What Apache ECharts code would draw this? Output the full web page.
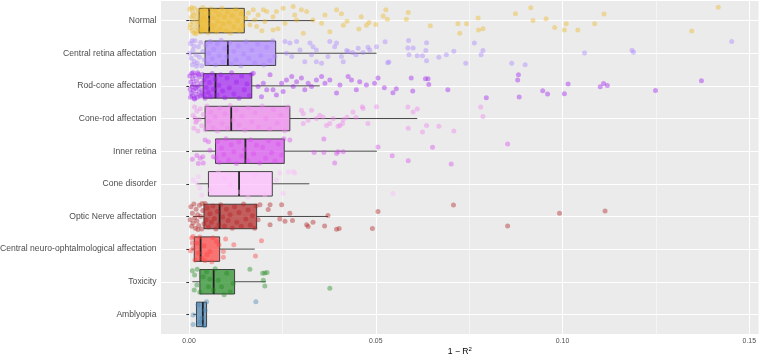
<!DOCTYPE html>
<html>
<head>
<meta charset="utf-8">
<script src="https://cdn.jsdelivr.net/npm/echarts@6/dist/echarts.min.js"></script>
<style>
  html, body { margin: 0; padding: 0; background: #fff; }
  #chart { width: 760px; height: 356px; }
</style>
</head>
<body>
<div id="chart"></div>
<script>
var categories = ['Normal', 'Central retina affectation', 'Rod-cone affectation', 'Cone-rod affectation',
  'Inner retina', 'Cone disorder', 'Optic Nerve affectation', 'Central neuro-ophtalmological affectation',
  'Toxicity', 'Amblyopia'];

// box statistics
var boxLow  = [0.0001, 0.0005, 0.0003, 0.0011, 0.0008, 0.0021, 0.0011, 0.0007, 0.0009, 0.0011];
var boxQ1   = [0.0027, 0.0043, 0.0038, 0.0043, 0.0071, 0.0052, 0.0040, 0.0014, 0.0029, 0.0020];
var boxMed  = [0.0054, 0.0104, 0.0071, 0.0113, 0.0151, 0.0134, 0.0082, 0.0031, 0.0066, 0.0037];
var boxQ3   = [0.0148, 0.0232, 0.0168, 0.0270, 0.0255, 0.0223, 0.0181, 0.0082, 0.0122, 0.0047];
var boxHigh = [0.0335, 0.0502, 0.0350, 0.0611, 0.0503, 0.0322, 0.0372, 0.0176, 0.0206, 0.0047];

var groupColors = ['#ECB828', '#AB82FF', '#A020F0', '#EE82EE', '#D94FEF',
  '#FFBBFF', '#B22222', '#FF4040', '#228B22', '#4682B4'];

var xTicks = [0, 0.05, 0.10, 0.15];

// jittered points: [1 - R^2, vertical jitter]
var ptsNormal = [
  [0.0002,-0.35],[0.0004,0.12],[0.0006,-0.1],[0.0008,0.3],[0.0010,-0.25],[0.0011,0.05],[0.0013,0.38],[0.0015,-0.38],
  [0.0016,0.2],[0.0018,-0.05],[0.0020,0.33],[0.0021,-0.2],[0.0023,0.1],[0.0025,-0.32],[0.0026,0.25],[0.0028,-0.12],
  [0.0030,0.36],[0.0032,0.0],[0.0034,-0.28],[0.0035,0.18],[0.0037,-0.4],[0.0039,0.3],[0.0041,-0.15],[0.0043,0.08],
  [0.0045,-0.33],[0.0047,0.22],[0.0049,-0.02],[0.0051,0.37],[0.0053,-0.22],[0.0056,0.12],[0.0059,-0.36],[0.0062,0.28],
  [0.0065,-0.08],[0.0068,0.16],[0.0071,-0.3],[0.0074,0.35],[0.0077,0.02],[0.0080,-0.18],[0.0084,0.25],[0.0088,-0.38],
  [0.0091,0.1],[0.0095,-0.1],[0.0099,0.32],[0.0103,-0.26],[0.0107,0.05],[0.0111,0.38],[0.0116,-0.15],[0.0120,0.2],
  [0.0125,-0.35],[0.0130,0.0],[0.0135,0.3],[0.0140,-0.22],[0.0145,0.14],[0.0003,0.22],[0.0007,-0.4],[0.0012,-0.15],
  [0.0019,0.4],[0.0027,0.05],[0.0033,0.26],[0.0040,-0.05],
  [0.0159,-0.23],[0.0172,-0.33],[0.0185,-0.17],[0.0163,0.13],[0.0181,0.18],[0.0199,-0.33],[0.0208,-0.28],[0.0225,-0.12],
  [0.0234,-0.28],[0.0252,-0.38],[0.0257,0.08],[0.0279,-0.43],[0.0283,-0.17],[0.0288,-0.02],[0.0301,-0.33],[0.0306,0.39],
  [0.0315,-0.28],[0.0332,-0.02],[0.0355,0.08],[0.0364,-0.17],[0.0377,0.34],[0.0395,-0.33],[0.0408,-0.21],[0.0413,0.14],
  [0.0423,0.02],[0.0455,0.26],[0.0461,-0.12],[0.0475,0.14],[0.0482,0.06],[0.0500,0.12],[0.0520,-0.14],[0.0527,-0.33],
  [0.0531,-0.04],[0.0582,-0.04],[0.0587,-0.25],[0.0646,0.16],[0.0720,0.10],[0.0725,0.39],[0.0743,0.10],[0.0774,-0.08],
  [0.0775,0.29],[0.0787,0.25],[0.0874,-0.21],[0.0915,-0.39],[0.0921,0.0],[0.0956,-0.06],[0.0979,0.21],[0.1005,0.29],
  [0.1010,0.10],[0.1041,0.29],[0.1086,0.10],[0.1111,-0.20],[0.1346,0.32],[0.1417,-0.41],
  [0.0225,0.29],[0.0203,0.03],[0.0176,-0.02],[0.0152,-0.08],[0.0238,0.25],[0.0195,0.31]
];
var ptsCentralRetina = [
  [0.0004,-0.3],[0.0006,0.15],[0.0009,0.35],[0.0011,-0.1],[0.0014,0.25],[0.0016,-0.38],[0.0019,0.05],[0.0022,0.3],
  [0.0025,-0.2],[0.0028,0.12],[0.0031,-0.33],[0.0034,0.38],[0.0037,-0.05],[0.0041,0.2],[0.0045,-0.25],[0.0049,0.32],
  [0.0053,0.0],[0.0057,-0.36],[0.0062,0.17],[0.0066,-0.12],[0.0071,0.36],[0.0076,-0.28],[0.0081,0.08],[0.0086,-0.4],
  [0.0091,0.26],[0.0096,-0.15],[0.0102,0.1],[0.0108,-0.32],[0.0114,0.33],[0.0120,-0.05],[0.0126,0.2],[0.0132,-0.22],
  [0.0139,0.38],[0.0146,0.02],[0.0153,-0.35],[0.0160,0.15],[0.0168,-0.1],[0.0176,0.3],[0.0184,-0.28],[0.0192,0.07],
  [0.0200,0.36],[0.0208,-0.18],[0.0216,0.22],[0.0224,-0.38],[0.0230,0.1],[0.0002,0.0],[0.0013,-0.22],[0.0020,0.4],
  [0.0008,-0.38],
  [0.0257,-0.36],[0.0270,-0.31],[0.0288,-0.36],[0.0261,0.0],[0.0275,0.10],[0.0297,-0.10],[0.0310,0.26],[0.0324,-0.31],
  [0.0328,0.05],[0.0341,-0.10],[0.0355,0.31],[0.0332,-0.20],[0.0341,0.26],[0.0372,0.10],[0.0377,-0.36],[0.0390,-0.20],
  [0.0395,-0.31],[0.0408,0.10],[0.0413,0.26],[0.0422,-0.08],[0.0426,-0.05],[0.0438,-0.02],[0.0447,0.05],[0.0453,-0.15],
  [0.0466,-0.02],[0.0479,-0.18],[0.0484,-0.10],[0.0502,-0.20],[0.0525,-0.35],[0.0532,0.29],[0.0535,0.27],[0.0586,-0.16],
  [0.0588,-0.39],[0.0600,-0.16],[0.0589,0.05],[0.0611,0.08],[0.0625,0.08],[0.0636,0.23],[0.0634,-0.08],[0.0636,-0.32],
  [0.0669,0.12],[0.0689,0.05],[0.0709,-0.06],[0.0741,0.31],[0.0764,-0.31],[0.0782,0.05],[0.0787,-0.08],[0.0864,0.31],
  [0.0900,0.35],[0.1059,-0.01],[0.1186,-0.09],[0.1190,-0.03],[0.1453,-0.36]
];
var ptsRodCone = [
  [0.0002,-0.3],[0.0003,0.1],[0.0004,0.35],[0.0005,-0.12],[0.0006,0.22],[0.0007,-0.38],[0.0008,0.02],[0.0009,0.3],
  [0.0010,-0.22],[0.0012,0.14],[0.0013,-0.05],[0.0014,0.38],[0.0016,-0.32],[0.0017,0.08],[0.0019,0.26],[0.0020,-0.15],
  [0.0022,0.35],[0.0023,-0.4],[0.0025,0.0],[0.0027,0.18],[0.0028,-0.27],[0.0030,0.32],[0.0032,-0.08],[0.0034,0.12],
  [0.0036,-0.35],[0.0038,0.24],[0.0040,-0.18],[0.0043,0.38],[0.0046,0.05],[0.0049,-0.3],[0.0052,0.2],[0.0055,-0.1],
  [0.0058,0.33],[0.0062,-0.38],[0.0066,0.1],[0.0070,-0.2],[0.0075,0.28],[0.0080,-0.02],[0.0085,-0.34],[0.0090,0.16],
  [0.0096,0.36],[0.0102,-0.24],[0.0108,0.06],[0.0114,-0.4],[0.0120,0.25],[0.0127,-0.12],[0.0134,0.38],[0.0141,-0.3],
  [0.0148,0.12],[0.0155,-0.06],[0.0162,0.3],[0.0167,-0.36],[0.0011,-0.4],[0.0015,0.4],[0.0021,0.05],[0.0026,-0.36],
  [0.0033,0.28],
  [0.0172,-0.39],[0.0185,0.02],[0.0199,-0.08],[0.0208,0.12],[0.0194,0.33],[0.0217,-0.34],[0.0225,0.12],[0.0234,0.28],
  [0.0248,-0.08],[0.0252,0.17],[0.0261,-0.18],[0.0275,-0.29],[0.0279,0.02],[0.0288,-0.13],[0.0301,-0.24],[0.0310,0.12],
  [0.0319,-0.08],[0.0328,0.02],[0.0341,-0.18],[0.0355,-0.29],[0.0364,-0.08],[0.0377,-0.18],[0.0395,0.22],[0.0404,-0.03],
  [0.0426,-0.29],[0.0435,-0.18],[0.0448,0.12],[0.0457,-0.13],[0.0475,-0.03],[0.0497,-0.08],[0.0506,-0.24],[0.0523,0.06],
  [0.0546,0.21],[0.0555,0.09],[0.0595,-0.24],[0.0599,0.16],[0.0633,-0.22],[0.0640,-0.22],[0.0642,-0.04],[0.0693,0.12],
  [0.0796,0.36],[0.0882,-0.34],[0.0880,-0.18],[0.0884,0.34],[0.0947,0.15],[0.0960,0.25],[0.1005,0.24],[0.1015,-0.06],
  [0.1101,0.03],[0.1110,-0.07],[0.1120,-0.01],[0.1249,0.14],[0.1372,-0.16]
];
var ptsConeRod = [
  [0.0011,-0.1],[0.0013,0.3],[0.0015,-0.35],[0.0018,0.12],[0.0021,-0.22],[0.0024,0.38],[0.0027,0.02],[0.0030,-0.3],
  [0.0034,0.22],[0.0038,-0.12],[0.0043,0.34],[0.0048,-0.38],[0.0053,0.08],[0.0058,-0.2],[0.0064,0.28],[0.0070,-0.05],
  [0.0076,0.38],[0.0082,-0.32],[0.0089,0.15],[0.0096,-0.15],[0.0103,0.3],[0.0110,-0.4],[0.0118,0.05],[0.0126,-0.25],
  [0.0134,0.2],[0.0142,-0.08],[0.0150,0.36],[0.0159,-0.34],[0.0168,0.1],[0.0177,-0.18],[0.0186,0.26],[0.0196,-0.38],
  [0.0206,0.0],[0.0216,0.32],[0.0226,-0.28],[0.0236,0.14],[0.0246,-0.1],[0.0256,0.38],[0.0265,-0.35],[0.0020,0.08],
  [0.0016,-0.02],
  [0.0301,-0.25],[0.0306,-0.15],[0.0319,0.05],[0.0328,-0.25],[0.0306,0.15],[0.0341,0.0],[0.0350,-0.10],[0.0359,-0.05],
  [0.0368,0.21],[0.0377,0.15],[0.0386,0.0],[0.0399,0.24],[0.0411,0.15],[0.0413,0.03],[0.0423,-0.04],[0.0439,-0.20],
  [0.0447,-0.03],[0.0464,-0.36],[0.0466,-0.31],[0.0479,0.15],[0.0502,-0.36],[0.0586,-0.35],[0.0600,-0.20],[0.0611,-0.29],
  [0.0587,0.30],[0.0625,0.41],[0.0636,0.21],[0.0669,0.24],[0.0709,0.38],[0.0781,-0.35],[0.0787,-0.06],[0.0404,0.21]
];
var ptsInnerRetina = [
  [0.0009,0.25],[0.0021,0.13],[0.0025,0.38],[0.0037,0.17],[0.0043,-0.34],[0.0052,-0.29],[0.0038,0.36],[0.0056,-0.03],
  [0.0065,0.17],[0.0030,0.22],
  [0.0072,0.2],[0.0076,-0.3],[0.0081,0.35],[0.0087,-0.1],[0.0093,0.1],[0.0099,-0.38],[0.0106,0.28],[0.0113,-0.2],
  [0.0120,0.02],[0.0127,0.38],[0.0134,-0.28],[0.0141,0.15],[0.0149,-0.05],[0.0157,0.3],[0.0165,-0.35],[0.0173,0.08],
  [0.0181,-0.18],[0.0189,0.36],[0.0197,-0.12],[0.0205,0.22],[0.0213,-0.32],[0.0221,0.05],[0.0230,0.3],[0.0239,-0.22],
  [0.0248,0.12],[0.0254,-0.38],
  [0.0270,-0.34],[0.0335,0.04],[0.0361,-0.37],[0.0361,0.04],[0.0390,0.36],[0.0399,0.02],[0.0395,0.07],[0.0413,0.02],
  [0.0506,-0.13],[0.0544,0.14],[0.0587,0.29],[0.0652,-0.12],[0.0702,0.39],[0.0853,-0.22]
];
var ptsConeDisorder = [
  [0.0011,-0.12],[0.0025,-0.22],[0.0029,0.13],[0.0034,0.34],[0.0021,-0.02],[0.0056,0.18],[0.0096,-0.18],[0.0136,0.25],
  [0.0176,-0.28],[0.0203,0.34],[0.0243,-0.33],[0.0266,-0.36],[0.0283,-0.33],[0.0252,0.29],[0.0234,-0.12],[0.0279,-0.38],
  [0.0546,0.30],[0.0110,0.03],[0.0078,-0.37],[0.0158,0.40]
];
var ptsOpticNerve = [
  [0.0003,0.1],[0.0005,-0.3],[0.0007,0.3],[0.0009,-0.1],[0.0011,0.2],[0.0013,-0.38],[0.0015,0.05],[0.0017,0.36],
  [0.0019,-0.22],[0.0021,0.14],[0.0023,-0.05],[0.0026,0.28],[0.0028,-0.34],[0.0031,0.0],[0.0034,0.38],[0.0037,-0.18],
  [0.0040,0.22],[0.0043,-0.4],[0.0046,0.1],[0.0049,-0.26],[0.0052,0.32],[0.0056,-0.08],[0.0060,0.18],[0.0064,-0.32],
  [0.0068,0.06],[0.0072,0.38],[0.0076,-0.15],[0.0080,0.25],[0.0085,-0.36],[0.0090,0.02],[0.0095,0.3],[0.0100,-0.22],
  [0.0105,0.12],[0.0110,-0.05],[0.0116,0.36],[0.0122,-0.3],[0.0128,0.18],[0.0134,-0.12],[0.0140,0.3],[0.0146,-0.38],
  [0.0152,0.08],[0.0158,-0.2],[0.0164,0.26],[0.0170,-0.02],[0.0176,0.36],[0.0180,-0.32],[0.0024,0.4],[0.0035,-0.4],
  [0.0190,-0.36],[0.0217,-0.36],[0.0248,-0.36],[0.0212,-0.21],[0.0185,0.10],[0.0217,0.25],[0.0243,0.08],[0.0257,0.15],
  [0.0277,0.12],[0.0270,-0.10],[0.0315,0.25],[0.0319,0.31],[0.0332,0.18],[0.0363,0.29],[0.0372,-0.03],[0.0395,0.39],
  [0.0402,0.37],[0.0491,0.37],[0.0506,-0.15],[0.0708,-0.35],[0.0853,0.29],[0.0992,-0.10],[0.1114,-0.17]
];
var ptsCentralNeuro = [
  [0.0007,-0.34],[0.0011,-0.39],[0.0029,-0.37],[0.0021,-0.18],[0.0011,-0.03],[0.0025,0.12],[0.0016,0.33],[0.0034,0.28],
  [0.0056,0.07],[0.0074,-0.23],[0.0092,0.07],[0.0092,0.25],[0.0098,-0.31],[0.0120,-0.13],[0.0194,-0.26],[0.0178,0.21],
  [0.0040,-0.10],[0.0048,0.17],[0.0061,0.39],[0.0009,-0.19],[0.0004,0.05],[0.0064,-0.35],[0.0080,-0.13],[0.0043,0.36]
];
var ptsToxicity = [
  [0.0009,-0.34],[0.0022,-0.38],[0.0015,-0.21],[0.0021,0.10],[0.0014,0.25],[0.0038,-0.15],[0.0052,0.15],[0.0065,0.25],
  [0.0078,-0.05],[0.0101,-0.26],[0.0110,0.31],[0.0118,0.05],[0.0087,0.15],[0.0047,-0.31],[0.0056,-0.08],[0.0029,0.32],
  [0.0163,-0.38],[0.0203,-0.27],[0.0197,-0.26],[0.0209,-0.28],[0.0199,-0.05],[0.0203,0.13],[0.0377,0.20],[0.0070,-0.40],
  [0.0094,0.40]
];
var ptsAmblyopia = [
  [0.0047,-0.39],[0.0011,0.02],[0.0011,0.31],[0.0041,0.35],[0.0179,-0.39],[0.0024,-0.29],[0.0035,0.11],[0.0043,-0.13],
  [0.0029,0.24]
];
var groupPoints = [ptsNormal, ptsCentralRetina, ptsRodCone, ptsConeRod, ptsInnerRetina,
  ptsConeDisorder, ptsOpticNerve, ptsCentralNeuro, ptsToxicity, ptsAmblyopia];

function hexA(hex, a) {
  var n = parseInt(hex.slice(1), 16);
  return 'rgba(' + (n >> 16 & 255) + ',' + (n >> 8 & 255) + ',' + (n & 255) + ',' + a + ')';
}

// vertical gridline colour cycles (one entry per 0.0025 step starting at -0.0075)
var majorCycle = [], minorCycle = [];
for (var k = 0; k < 20; k++) {
  majorCycle.push(k === 3 ? '#FFFFFF' : 'rgba(0,0,0,0)');
  minorCycle.push(k === 13 ? '#FFFFFF' : 'rgba(0,0,0,0)');
}

var FONT = '"Liberation Sans", Arial, sans-serif';

var boxData = categories.map(function (c, i) {
  return [i + 1, boxLow[i], boxQ1[i], boxMed[i], boxQ3[i], boxHigh[i]];
});

var series = [{
  type: 'custom',
  xAxisIndex: 0,
  yAxisIndex: 0,
  z: 2,
  data: boxData,
  renderItem: function (params, api) {
    var cat = api.value(0);
    var lo = api.coord([api.value(1), cat]);
    var q1 = api.coord([api.value(2), cat]);
    var md = api.coord([api.value(3), cat]);
    var q3 = api.coord([api.value(4), cat]);
    var hi = api.coord([api.value(5), cat]);
    var h = api.size([0, 0.75])[1];
    var y = q1[1];
    var col = groupColors[params.dataIndex];
    return {
      type: 'group',
      children: [
        { type: 'line', shape: { x1: lo[0], y1: y, x2: q1[0], y2: y }, style: { stroke: '#333333', lineWidth: 0.9 } },
        { type: 'line', shape: { x1: q3[0], y1: y, x2: hi[0], y2: y }, style: { stroke: '#333333', lineWidth: 0.9 } },
        { type: 'rect', shape: { x: q1[0], y: y - h / 2, width: q3[0] - q1[0], height: h },
          style: { fill: hexA(col, 0.7), stroke: '#333333', lineWidth: 0.9 } },
        { type: 'line', shape: { x1: md[0], y1: y - h / 2, x2: md[0], y2: y + h / 2 },
          style: { stroke: '#222222', lineWidth: 1.8 } }
      ]
    };
  }
}];

groupPoints.forEach(function (pts, i) {
  series.push({
    type: 'scatter',
    xAxisIndex: 0,
    yAxisIndex: 0,
    z: 3,
    symbolSize: 5,
    silent: true,
    itemStyle: { color: groupColors[i], opacity: 0.42 },
    data: pts.map(function (p) { return [p[0], i + 1 + p[1]]; })
  });
});

var option = {
  animation: false,
  backgroundColor: '#FFFFFF',
  grid: [
    { left: 161, right: 1.4, top: 1, bottom: 22, show: true, backgroundColor: '#EBEBEB', borderWidth: 0,
      containLabel: false, outerBoundsMode: 'none' },
    // spans first to last category centre so category ticks/lines sit on the rows
    { left: 161, right: 1.4, top: 20.6, bottom: 41.6, containLabel: false, outerBoundsMode: 'none' }
  ],
  xAxis: [{
    type: 'value', gridIndex: 0, min: -0.0075, max: 0.1525, interval: 0.0025,
    axisLine: { show: false }, axisTick: { show: false },
    axisLabel: {
      color: '#4D4D4D', fontSize: 6.9, fontFamily: FONT, margin: 4,
      formatter: function (v) {
        for (var t = 0; t < xTicks.length; t++) {
          if (Math.abs(v - xTicks[t]) < 1e-7) return xTicks[t].toFixed(2);
        }
        return '';
      }
    },
    splitLine: { show: true, lineStyle: { color: majorCycle, width: 1 } },
    name: '1 \u2212 R{sup|2}', nameLocation: 'middle', nameGap: 12, nameMoveOverlap: false,
    nameTextStyle: {
      color: '#000000', fontSize: 8.6, fontFamily: FONT,
      rich: { sup: { fontSize: 6, fontFamily: FONT, color: '#000000', padding: [0, 0, 5, 0] } }
    }
  }, {
    type: 'value', gridIndex: 0, min: -0.0075, max: 0.1525, interval: 0.0025,
    axisLine: { show: false }, axisTick: { show: false }, axisLabel: { show: false },
    splitLine: { show: true, lineStyle: { color: minorCycle, width: 0.5 } }
  }, {
    type: 'value', gridIndex: 1, min: -0.0075, max: 0.1525, show: false
  }],
  yAxis: [{
    type: 'value', gridIndex: 0, min: 0.4, max: 10.6, inverse: true, show: false,
    splitLine: { show: false }
  }, {
    type: 'category', gridIndex: 1, data: categories, inverse: true, boundaryGap: false,
    axisLine: { show: false },
    axisTick: { show: true, length: 2.7, lineStyle: { color: '#333333', width: 1 } },
    axisLabel: { color: '#4D4D4D', fontSize: 8.6, fontFamily: FONT, margin: 4.5 },
    splitLine: { show: true, lineStyle: { color: '#FFFFFF', width: 1 } }
  }],
  series: series
};

var chart = echarts.init(document.getElementById('chart'), null, { renderer: 'canvas' });
chart.setOption(option);
</script>
</body>
</html>
